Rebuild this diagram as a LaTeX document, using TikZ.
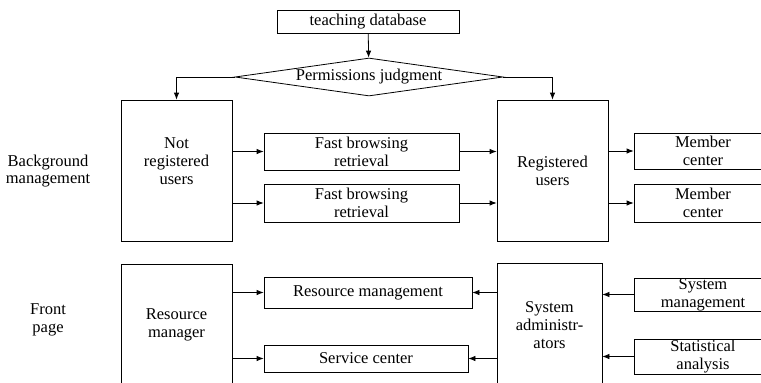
\documentclass[tikz,border=0pt]{standalone}
\usepackage{fontspec}
\setmainfont{Liberation Serif}
\usepackage{tikz}
\usetikzlibrary{shapes,arrows,positioning,calc,arrows.meta}

\begin{document}
\begin{tikzpicture}[x=1pt, y=-1pt, >={Latex[length=7pt,width=5.5pt]}, line width=0.8pt,
    box/.style={draw, rectangle, inner sep=0pt, align=center},
    every node/.style={font=\fontsize{16.5}{17.8}\selectfont}]
    \clip (0,0) rectangle (761,383);
    \fill[white] (0,0) rectangle (761,383);

    % top: database and the permission check
    \node [box, minimum width=182pt, minimum height=23pt] (db) at (368,21.5) {teaching database};
    \node [draw, diamond, aspect=7.05, inner sep=0pt, minimum width=268pt, minimum height=38pt] (judge) at (369,77) {Permissions judgment};

    % users
    \node [box, minimum width=111pt, minimum height=141pt] (unreg) at (176.5,170.5) {};
    \node [align=center] (unregtext) at (176.5,161) {Not\\registered\\users};
    \node [box, minimum width=111pt, minimum height=141pt] (reg) at (552.5,170.5) {Registered\\users};
    \node [box, minimum width=195pt, minimum height=37pt] (fbr1) at (361.5,151.5) {Fast browsing\\retrieval};
    \node [box, minimum width=195pt, minimum height=38pt] (fbr2) at (361.5,203) {Fast browsing\\retrieval};
    \node [box, minimum width=138pt, minimum height=36pt] (mc1) at (703,151) {Member\\center};
    \node [box, minimum width=138pt, minimum height=38pt] (mc2) at (703,203) {Member\\center};

    % managers
    \node [box, minimum width=111pt, minimum height=121pt] (resmgr) at (176.5,324.5) {Resource\\manager};
    \node [box, minimum width=105pt, minimum height=124pt] (sysadm) at (549.5,325) {System\\administr-\\ators};
    \node [box, minimum width=208pt, minimum height=31pt] (resm) at (368,292.5) {Resource management};
    \node [box, minimum width=204pt, minimum height=27pt] (svc) at (366,358.5) {Service center};
    \node [box, minimum width=138pt, minimum height=33pt] (sysm) at (703,294.5) {System\\management};
    \node [box, minimum width=138pt, minimum height=35pt] (stat) at (703,356.5) {Statistical\\analysis};

    \node [align=center] (back) at (48,171) {Background\\management};
    \node [align=center] (front) at (48,320) {Front\\page};

    \draw [->] (db) -- (judge);
    \draw [->] (judge.west) -| (unreg.north);
    \draw [->] (judge.east) -| (reg.north);

    \draw [->] (unreg.east |- fbr1) -- (fbr1);
    \draw [->] (unreg.east |- fbr2) -- (fbr2);
    \draw [->] (fbr1) -- (reg.west |- fbr1);
    \draw [->] (fbr2) -- (reg.west |- fbr2);
    \draw [->] (reg.east |- mc1) -- (mc1);
    \draw [->] (reg.east |- mc2) -- (mc2);

    \draw [->] (resmgr.east |- resm) -- (resm);
    \draw [->] (resmgr.east |- svc) -- (svc);
    \draw [->] (sysadm.west |- resm) -- (resm);
    \draw [->] (sysadm.west |- svc) -- (svc);
    \draw [->] (sysm) -- (sysadm.east |- sysm);
    \draw [->] (stat) -- (sysadm.east |- stat);
\end{tikzpicture}
\end{document}
